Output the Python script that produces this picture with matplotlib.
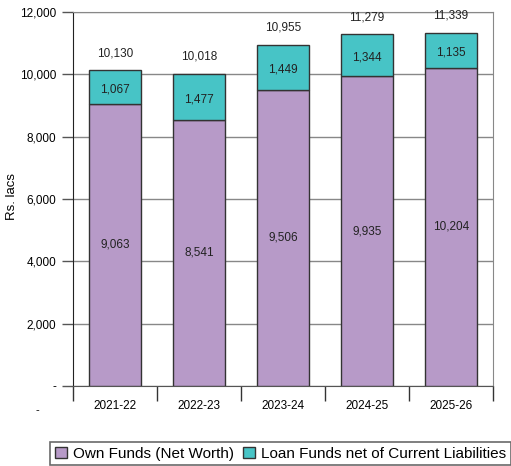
import matplotlib.pyplot as plt
import numpy as np

plt.rcParams['font.family'] = ['Liberation Sans', 'DejaVu Sans']

years = ['2021-22', '2022-23', '2023-24', '2024-25', '2025-26']
own_funds = [9063, 8541, 9506, 9935, 10204]
loan_funds = [1067, 1477, 1449, 1344, 1135]
totals = [10130, 10018, 10955, 11279, 11339]

purple = '#B79AC8'
teal = '#47C4C6'
edge = '#333333'

fig = plt.figure(figsize=(5.11, 4.66), dpi=100)
ax = fig.add_axes([73 / 511, 80 / 466, 420 / 511, 374 / 466])

x = np.arange(len(years))
w = 0.63
b1 = ax.bar(x, own_funds, w, color=purple, edgecolor=edge, linewidth=1,
            label='Own Funds (Net Worth)', zorder=3)
b2 = ax.bar(x, loan_funds, w, bottom=own_funds, color=teal, edgecolor=edge,
            linewidth=1, label='Loan Funds net of Current Liabilities', zorder=3)

for i in range(len(years)):
    ax.text(x[i], own_funds[i] / 2, f'{own_funds[i]:,}', ha='center', va='center',
            fontsize=8.5, color='#222222', zorder=4)
    ax.text(x[i], own_funds[i] + loan_funds[i] / 2 - 80, f'{loan_funds[i]:,}',
            ha='center', va='center', fontsize=8.5, color='#222222', zorder=4)
    ax.annotate(f'{totals[i]:,}', (x[i], totals[i]), xytext=(0, 8),
                textcoords='offset points', ha='center', va='bottom',
                fontsize=8.5, color='#222222')

ax.set_xlim(-0.5, len(years) - 0.5)
ax.set_ylim(0, 12000)
yt = np.arange(0, 12001, 2000)
ax.set_yticks(yt)
ax.set_yticklabels(['-'] + [f'{v:,}' for v in yt[1:]], fontsize=8.5)
ax.yaxis.grid(True, color='#888888', linewidth=1, zorder=0)
ax.tick_params(axis='y', length=8, width=1, color='#555555', pad=4)

ax.set_xticks(x)
ax.set_xticklabels(years, fontsize=8.5)
ax.tick_params(axis='x', length=0, pad=10)
ax.set_xticks(np.arange(-0.5, len(years)), minor=True)
ax.tick_params(axis='x', which='minor', length=11, width=1, color='#333333')

ax.spines['left'].set_color('#222222')
ax.spines['bottom'].set_color('#555555')
ax.spines['top'].set_color('#888888')
ax.spines['right'].set_color('#888888')

fig.text(12 / 511, 1 - 196 / 466, 'Rs. lacs', fontsize=9.5, rotation=90,
         ha='center', va='center')

fig.text(37 / 511, 1 - 410 / 466, '-', fontsize=8, ha='center', va='center')

leg = fig.legend(handles=[b1, b2], loc='upper left',
                 bbox_to_anchor=(50 / 511, 1 - 442 / 466), ncol=2,
                 fontsize=11, frameon=True, fancybox=False, borderpad=0.3,
                 handlelength=0.8, handleheight=0.8, handletextpad=0.4,
                 columnspacing=0.6, borderaxespad=0)
leg.get_frame().set_edgecolor('#444444')
leg.get_frame().set_linewidth(1.2)

fig.savefig('out.png', dpi=100)
